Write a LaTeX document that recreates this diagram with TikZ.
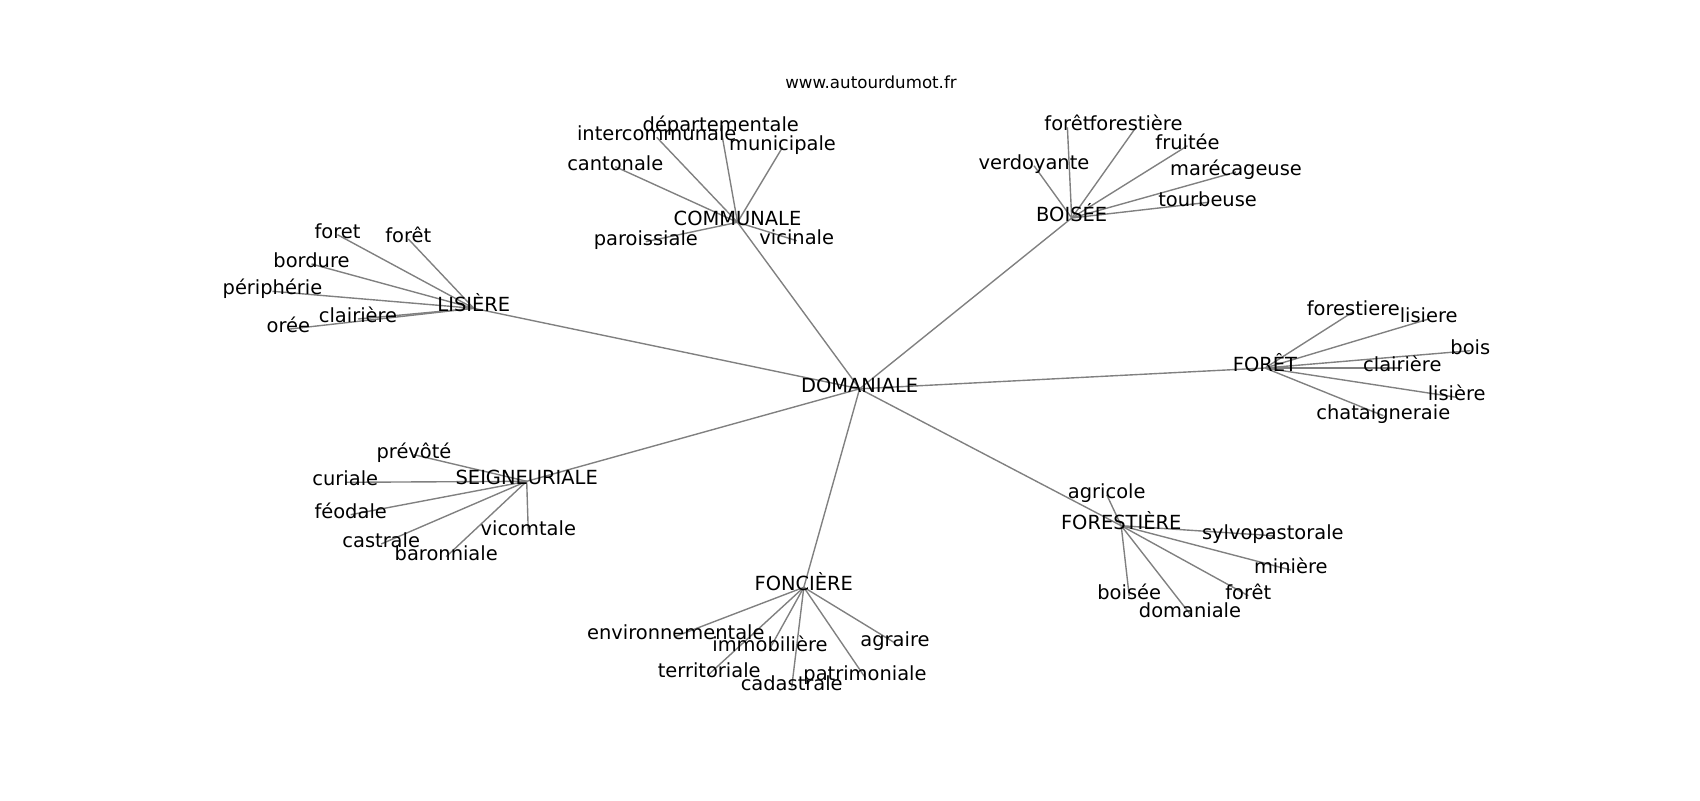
\documentclass[tikz,border=0pt]{standalone}
\usepackage{fontspec}
\setmainfont{DejaVu Sans}
\definecolor{edgegray}{RGB}{128,128,128}
\tikzset{
  lbl/.style={inner sep=0pt, text height=0.76em, text depth=0.24em, font=\fontsize{14}{16}\selectfont},
  ttl/.style={inner sep=0pt, font=\fontsize{12}{14}\selectfont},
  edge/.style={draw=edgegray, line width=1pt}
}
\begin{document}
\begin{tikzpicture}[x=0.72pt, y=-0.72pt]
\useasboundingbox (0,0) rectangle (1700,800);
\node[ttl] (title) at (871,82.4) {www.autourdumot.fr};
\begin{scope}[yshift=-4*0.72pt]
% hubs
\coordinate (D) at (859.6,384.8);
\coordinate (C) at (737.5,218.3);
\coordinate (B) at (1071.7,214);
\coordinate (L) at (473.8,304.3);
\coordinate (F) at (1265,364);
\coordinate (S) at (526.7,477.3);
\coordinate (N) at (803.8,583.3);
\coordinate (R) at (1121.2,521.7);
% COMMUNALE leaves
\coordinate (c1) at (720.8,124.3);
\coordinate (c2) at (656.7,133.3);
\coordinate (c3) at (782.5,143.3);
\coordinate (c4) at (615.3,162.7);
\coordinate (c5) at (645.8,237.7);
\coordinate (c6) at (796.7,236.7);
% BOISEE leaves
\coordinate (b1) at (1067.4,123.3);
\coordinate (b2) at (1136,123.3);
\coordinate (b3) at (1187.5,141.7);
\coordinate (b4) at (1034,161.7);
\coordinate (b5) at (1236,168);
\coordinate (b6) at (1207.6,198.4);
% LISIERE leaves
\coordinate (l1) at (337.5,230.7);
\coordinate (l2) at (408.3,235);
\coordinate (l3) at (311.5,260);
\coordinate (l4) at (272.5,287.3);
\coordinate (l5) at (358,315);
\coordinate (l6) at (288.3,325.2);
% FORET leaves
\coordinate (f1) at (1353.3,307.7);
\coordinate (f2) at (1428.7,315);
\coordinate (f3) at (1470.3,346.7);
\coordinate (f4) at (1402.3,364);
\coordinate (f5) at (1456.7,393.3);
\coordinate (f6) at (1383.3,411.7);
% SEIGNEURIALE leaves
\coordinate (s1) at (414,450.7);
\coordinate (s2) at (345.3,478.3);
\coordinate (s3) at (350.7,510.7);
\coordinate (s4) at (381.2,540);
\coordinate (s5) at (446.2,552.7);
\coordinate (s6) at (528.3,528.3);
% FONCIERE leaves
\coordinate (n1) at (675.8,632.3);
\coordinate (n2) at (770,644.3);
\coordinate (n3) at (895,639);
\coordinate (n4) at (709.2,670);
\coordinate (n5) at (791.7,683.3);
\coordinate (n6) at (865,673.3);
% FORESTIERE leaves
\coordinate (r1) at (1106.7,490.7);
\coordinate (r2) at (1272.8,531.7);
\coordinate (r3) at (1290.8,566);
\coordinate (r4) at (1129.2,591.7);
\coordinate (r5) at (1248.3,591.7);
\coordinate (r6) at (1190,610);
% edges
\foreach \h in {C,B,L,F,S,N,R} \draw[edge] (D) -- (\h);
\foreach \i in {1,...,6} {
  \draw[edge] (C) -- (c\i);
  \draw[edge] (B) -- (b\i);
  \draw[edge] (L) -- (l\i);
  \draw[edge] (F) -- (f\i);
  \draw[edge] (S) -- (s\i);
  \draw[edge] (N) -- (n\i);
  \draw[edge] (R) -- (r\i);
}
% labels
\node[lbl] (tD) at (D) {DOMANIALE};
\node[lbl] (tC) at (C) {COMMUNALE};
\node[lbl] (tB) at (B) {BOISÉE};
\node[lbl] (tL) at (L) {LISIÈRE};
\node[lbl] (tF) at (F) {FORÊT};
\node[lbl] (tS) at (S) {SEIGNEURIALE};
\node[lbl] (tN) at (N) {FONCIÈRE};
\node[lbl] (tR) at (R) {FORESTIÈRE};
\node[lbl] (tc1) at (c1) {départementale};
\node[lbl] (tc2) at (c2) {intercommunale};
\node[lbl] (tc3) at (c3) {municipale};
\node[lbl] (tc4) at (c4) {cantonale};
\node[lbl] (tc5) at (c5) {paroissiale};
\node[lbl] (tc6) at (c6) {vicinale};
\node[lbl] (tb1) at (b1) {forêt};
\node[lbl] (tb2) at (b2) {forestière};
\node[lbl] (tb3) at (b3) {fruitée};
\node[lbl] (tb4) at (b4) {verdoyante};
\node[lbl] (tb5) at (b5) {marécageuse};
\node[lbl] (tb6) at (b6) {tourbeuse};
\node[lbl] (tl1) at (l1) {foret};
\node[lbl] (tl2) at (l2) {forêt};
\node[lbl] (tl3) at (l3) {bordure};
\node[lbl] (tl4) at (l4) {périphérie};
\node[lbl] (tl5) at (l5) {clairière};
\node[lbl] (tl6) at (l6) {orée};
\node[lbl] (tf1) at (f1) {forestiere};
\node[lbl] (tf2) at (f2) {lisiere};
\node[lbl] (tf3) at (f3) {bois};
\node[lbl] (tf4) at (f4) {clairière};
\node[lbl] (tf5) at (f5) {lisière};
\node[lbl] (tf6) at (f6) {chataigneraie};
\node[lbl] (ts1) at (s1) {prévôté};
\node[lbl] (ts2) at (s2) {curiale};
\node[lbl] (ts3) at (s3) {féodale};
\node[lbl] (ts4) at (s4) {castrale};
\node[lbl] (ts5) at (s5) {baronniale};
\node[lbl] (ts6) at (s6) {vicomtale};
\node[lbl] (tn1) at (n1) {environnementale};
\node[lbl] (tn2) at (n2) {immobilière};
\node[lbl] (tn3) at (n3) {agraire};
\node[lbl] (tn4) at (n4) {territoriale};
\node[lbl] (tn5) at (n5) {cadastrale};
\node[lbl] (tn6) at (n6) {patrimoniale};
\node[lbl] (tr1) at (r1) {agricole};
\node[lbl] (tr2) at (r2) {sylvopastorale};
\node[lbl] (tr3) at (r3) {minière};
\node[lbl] (tr4) at (r4) {boisée};
\node[lbl] (tr5) at (r5) {forêt};
\node[lbl] (tr6) at (r6) {domaniale};
\end{scope}
\end{tikzpicture}
\end{document}
